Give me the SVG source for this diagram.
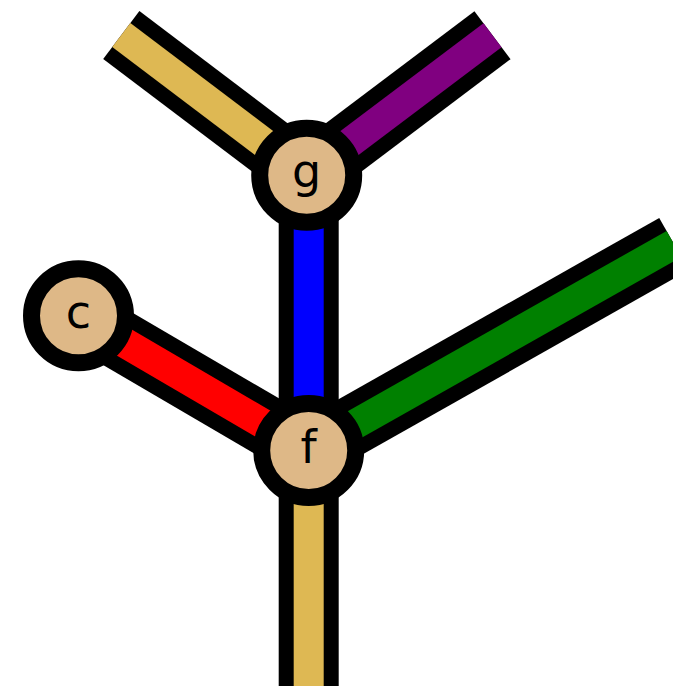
<svg xmlns="http://www.w3.org/2000/svg" width="673" height="689" viewBox="0 0 673 689">
<style>
.out{stroke:#000;stroke-width:60;fill:none;stroke-linecap:butt}
.in{stroke-width:30;fill:none;stroke-linecap:butt}
.node circle{fill:#deb887;stroke:#000;stroke-width:17}
.node text{font-family:"DejaVu Sans",sans-serif;font-size:46px;text-anchor:middle;fill:#000}
</style>
<rect width="673" height="689" fill="#fff"/>
<g id="connectors">
<line class="out" x1="306.7" y1="175.3" x2="121.3" y2="35"/>
<line class="out" x1="306.7" y1="175.3" x2="492.5" y2="35.2"/>
<line class="out" x1="308.7" y1="175.3" x2="308.7" y2="450.5"/>
<line class="out" x1="78.5" y1="315.8" x2="308.7" y2="450.5"/>
<line class="out" x1="308.7" y1="450.5" x2="674" y2="244"/>
<line class="out" x1="308.7" y1="450.5" x2="308.7" y2="686"/>
<line class="in" stroke="#deb853" x1="306.7" y1="175.3" x2="121.3" y2="35"/>
<line class="in" stroke="#800080" x1="306.7" y1="175.3" x2="492.5" y2="35.2"/>
<line class="in" stroke="#0000ff" x1="308.7" y1="175.3" x2="308.7" y2="450.5"/>
<line class="in" stroke="#ff0000" x1="78.5" y1="315.8" x2="308.7" y2="450.5"/>
<line class="in" stroke="#008000" x1="308.7" y1="450.5" x2="674" y2="244"/>
<line class="in" stroke="#deb853" x1="308.7" y1="450.5" x2="308.7" y2="686"/>
</g>
<g id="g" class="node"><circle cx="306.7" cy="175.3" r="47"/><text x="306.7" y="187.3">g</text></g>
<g id="c" class="node"><circle cx="78.5" cy="315.8" r="47"/><text x="78.5" y="328.3">c</text></g>
<g id="f" class="node"><circle cx="308.7" cy="450.5" r="47"/><text x="308.7" y="462.7">f</text></g>
</svg>
